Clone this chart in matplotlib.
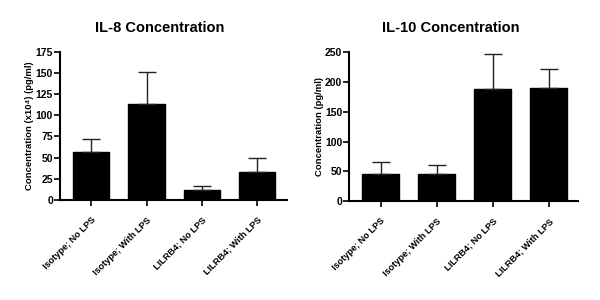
import matplotlib
matplotlib.use("Agg")
import matplotlib.pyplot as plt
import matplotlib.transforms as mtransforms
import numpy as np

plt.rcParams['font.family'] = ['Liberation Sans', 'DejaVu Sans']
plt.rcParams['font.weight'] = 'bold'

categories = ["Isotype; No LPS", "Isotype; With LPS", "LILRB4; No LPS", "LILRB4; With LPS"]
il8_means = [57, 113, 12, 33]
il8_err = [15, 38, 4.5, 17]
il10_means = [46, 46, 188, 190]
il10_err = [20, 14, 58, 31]

titles = ["IL-8 Concentration", "IL-10 Concentration"]
ylabels = ["Concentration (x10\u2074) (pg/ml)", "Concentration (pg/ml)"]
yticks_list = [[0, 25, 50, 75, 100, 125, 150, 175], [0, 50, 100, 150, 200, 250]]
ylims = [(0, 175), (0, 250)]

fig = plt.figure(figsize=(6, 3), dpi=100)
positions = [[0.100, 0.333, 0.378, 0.495], [0.582, 0.329, 0.382, 0.498]]
title_x = [0.44, 0.445]
data = [(il8_means, il8_err), (il10_means, il10_err)]

for i in range(2):
    ax = fig.add_axes(positions[i])
    means, errs = data[i]
    x = np.arange(len(categories))
    ax.bar(x, means, width=0.65, color='black', edgecolor='black')
    ax.errorbar(x, means, yerr=[np.zeros(len(errs)), errs], fmt='none',
                ecolor='#222222', elinewidth=1.0, capsize=6.5, capthick=1.0)
    ax.set_xlim(-0.56, 3.53)
    ax.set_ylim(*ylims[i])
    ax.set_yticks(yticks_list[i])
    ax.set_xticks(x)
    ax.set_xticklabels(categories, rotation=45, ha='right', rotation_mode='anchor',
                       fontsize=6.6, fontweight='bold')
    offset = mtransforms.ScaledTranslation(3 / 100, 0, fig.dpi_scale_trans)
    for lab in ax.get_xticklabels():
        lab.set_transform(lab.get_transform() + offset)
    ax.tick_params(axis='y', labelsize=7.5, width=1.2, length=4, pad=1)
    ax.tick_params(axis='x', width=1.2, length=4, pad=7)
    for lab in ax.get_yticklabels():
        lab.set_fontweight('bold')
    for s in ['top', 'right']:
        ax.spines[s].set_visible(False)
    for s in ['left', 'bottom']:
        ax.spines[s].set_linewidth(1.5)
    ax.set_ylabel(ylabels[i], fontsize=6.8, fontweight='bold', labelpad=1)
    ax.set_title(titles[i], fontsize=10.5, fontweight='bold', pad=14, x=title_x[i])

fig.savefig("out.png", dpi=100)
